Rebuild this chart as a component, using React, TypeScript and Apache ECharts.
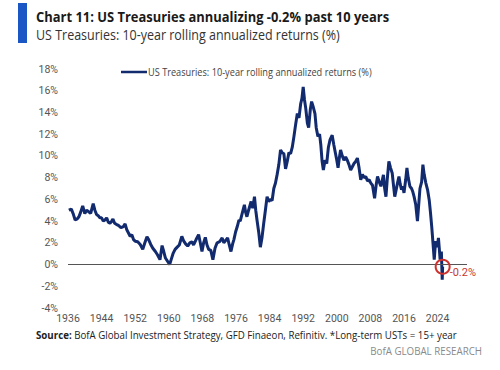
import React, { useEffect, useRef } from "react";
import * as echarts from "echarts";

const years = [
  1936.2, 1936.8, 1937.3, 1937.7, 1938.2, 1938.6, 1939.0, 1939.5, 1940.0, 1940.4, 1940.8, 1941.4, 1942.0, 1942.4, 1942.8,
  1943.2, 1943.6, 1944.0, 1944.4, 1944.8, 1945.2, 1945.6, 1946.0, 1946.4, 1946.7, 1947.1, 1947.5, 1948.0, 1948.6, 1949.2,
  1949.6, 1950.0, 1950.4, 1950.8, 1951.2, 1951.6, 1952.0, 1952.6, 1953.2, 1953.8, 1954.3, 1954.8, 1955.2, 1955.7, 1956.2,
  1956.8, 1957.3, 1957.9, 1958.4, 1958.8, 1959.2, 1959.7, 1960.2, 1960.6, 1961.0, 1961.5, 1962.0, 1962.5, 1963.1, 1963.5,
  1964.0, 1964.5, 1965.0, 1965.5, 1965.9, 1966.5, 1967.1, 1967.5, 1967.9, 1968.3, 1968.7, 1969.1, 1969.5, 1970.0, 1970.5,
  1971.0, 1971.5, 1972.1, 1972.7, 1973.1, 1973.5, 1974.0, 1974.4, 1974.8, 1975.2, 1975.5, 1975.9, 1976.3, 1976.7, 1977.0,
  1977.4, 1978.0, 1978.3, 1978.6, 1979.0, 1979.6, 1980.0, 1980.4, 1980.7, 1981.0, 1981.4, 1981.8, 1982.2, 1982.6, 1983.0,
  1983.4, 1983.8, 1984.2, 1984.6, 1985.0, 1985.4, 1985.8, 1986.2, 1986.6, 1987.0, 1987.4, 1987.8, 1988.2, 1988.6, 1989.0,
  1989.4, 1989.8, 1990.2, 1990.6, 1991.0, 1991.4, 1991.7, 1992.0, 1992.3, 1992.6, 1993.0, 1993.3, 1993.7, 1994.0, 1994.4,
  1994.8, 1995.1, 1995.5, 1995.9, 1996.2, 1996.5, 1996.8, 1997.2, 1997.6, 1998.0, 1998.4, 1998.9, 1999.3, 1999.7, 2000.0,
  2000.3, 2000.6, 2000.9, 2001.3, 2001.7, 2002.1, 2002.5, 2002.9, 2003.3, 2003.7, 2004.1, 2004.5, 2004.9, 2005.3, 2005.7,
  2006.1, 2006.5, 2006.9, 2007.3, 2007.7, 2008.1, 2008.5, 2009.0, 2009.4, 2009.7, 2010.1, 2010.5, 2010.8, 2011.1, 2011.4,
  2011.7, 2012.0, 2012.4, 2012.8, 2013.2, 2013.5, 2013.8, 2014.2, 2014.5, 2014.8, 2015.1, 2015.4, 2015.7, 2016.0, 2016.4,
  2016.7, 2017.0, 2017.4, 2017.8, 2018.1, 2018.4, 2018.8, 2019.2, 2019.5, 2019.8, 2020.2, 2020.5, 2020.8, 2021.2, 2021.6,
  2022.0, 2022.3, 2022.6, 2022.9, 2023.2, 2023.4, 2023.6, 2023.9, 2024.2, 2024.4, 2024.6, 2024.9, 2025.1, 2025.2,
];

const returns = [
  5.0, 5.1, 4.6, 4.1, 4.2, 4.4, 4.8, 5.4, 4.7, 5.0, 4.9, 4.7, 5.6, 5.0, 4.6,
  4.5, 4.3, 4.3, 4.0, 4.1, 4.3, 3.9, 3.8, 4.0, 4.2, 3.8, 3.7, 3.6, 3.4, 3.5,
  3.75, 3.2, 2.9, 2.6, 2.75, 2.3, 2.15, 2.1, 1.85, 1.4, 2.0, 2.55, 2.3, 1.85, 1.5,
  1.2, 0.9, 0.45, 1.75, 1.2, 0.6, 0.3, 0.0, 0.5, 1.0, 1.4, 1.6, 1.8, 2.6, 2.2,
  1.9, 1.7, 2.0, 2.1, 1.8, 2.3, 2.75, 2.0, 1.2, 2.0, 2.5, 1.8, 1.4, 1.3, 0.45,
  1.5, 2.0, 2.1, 2.45, 2.0, 2.2, 2.45, 1.8, 1.2, 1.9, 2.3, 3.0, 3.5, 4.1, 4.0,
  4.6, 5.5, 4.8, 4.4, 5.0, 5.8, 5.2, 6.25, 5.0, 4.1, 3.0, 1.6, 2.5, 3.8, 5.0,
  6.25, 5.8, 6.0, 5.9, 7.0, 7.5, 8.3, 9.2, 10.55, 10.3, 10.2, 8.8, 9.5, 10.3, 10.2,
  10.8, 11.8, 12.9, 13.9, 13.5, 14.8, 15.3, 16.35, 15.2, 14.4, 13.0, 12.6, 14.3, 15.0, 14.5,
  13.9, 12.6, 11.8, 12.0, 11.0, 9.5, 8.7, 9.6, 9.3, 10.8, 11.5, 11.9, 11.0, 10.2, 9.6,
  8.9, 9.8, 10.55, 10.0, 9.6, 9.9, 9.6, 9.2, 8.7, 9.0, 9.3, 9.5, 9.8, 8.9, 7.8,
  8.3, 8.0, 8.1, 7.7, 7.8, 7.5, 7.3, 6.1, 7.4, 8.1, 7.6, 7.2, 7.7, 8.25, 7.0,
  6.25, 7.8, 9.5, 8.9, 8.4, 7.3, 6.25, 7.0, 7.6, 8.1, 7.4, 6.9, 7.2, 6.6, 7.8,
  8.9, 8.0, 7.2, 7.0, 6.7, 6.25, 5.5, 4.0, 5.5, 7.0, 7.6, 9.2, 8.3, 7.5, 6.9,
  5.95, 4.8, 3.5, 2.0, 0.45, 1.5, 2.15, 1.6, 2.45, 1.5, 0.45, 1.2, -1.4, -0.2,
];

const seriesName = "US Treasuries: 10-year rolling annualized returns (%)";
const titleText = "Chart 11: US Treasuries annualizing -0.2% past 10 years";
const subtitleText = "US Treasuries: 10-year rolling annualized returns (%)";
const sourceLabel = "Source:";
const sourceText = " BofA Global Investment Strategy, GFD Finaeon, Refinitiv. *Long-term USTs = 15+ year";
const brandText = "BofA GLOBAL RESEARCH";
const lastLabel = "-0.2%";

const FONT = "'Open Sans', Roboto, sans-serif";
const AXIS_FONT = "Roboto, 'Open Sans', sans-serif";

function measure(text: string, weight: string, size: number, family: string) {
  const c = document.createElement("canvas").getContext("2d");
  if (!c) return text.length * size * 0.5;
  c.font = `${weight} ${size}px ${family}`;
  return c.measureText(text).width;
}

export default function App() {
  const ref = useRef<HTMLDivElement>(null);
  useEffect(() => {
    document.body.style.margin = "0";
    if (!ref.current) return;
    const chart = echarts.init(ref.current, null, { renderer: "svg" });
    const data = years.map((y, i) => [y, returns[i]]);
    const lastIdx = data.length - 1;

    const titleScale = 353 / measure(titleText, "bold", 15, FONT);
    const subScale = 304 / measure(subtitleText, "normal", 14.5, FONT);
    const legScale = 224 / measure(seriesName, "normal", 11, FONT);
    const srcW = measure(sourceLabel, "bold", 10.5, FONT) + measure(sourceText, "normal", 10.5, FONT);
    const srcScale = 421 / srcW;
    const brandScale = 112 / measure(brandText, "normal", 10.5, FONT);

    chart.setOption({
      animation: false,
      backgroundColor: "#ffffff",
      grid: { left: 68, right: 33, top: 69, bottom: 62 },
      xAxis: {
        type: "value",
        min: 1936,
        max: 2031,
        interval: 8,
        axisLine: { show: false },
        axisTick: { show: false },
        splitLine: { show: false },
        axisLabel: {
          showMaxLabel: false,
          color: "#555",
          fontFamily: AXIS_FONT,
          fontSize: 10.5,
          margin: 5,
          formatter: (v: number) => String(v),
        },
      },
      yAxis: {
        type: "value",
        min: -4,
        max: 18,
        interval: 2,
        axisLine: { show: false },
        axisTick: { show: false },
        splitLine: { show: false },
        axisLabel: {
          color: "#555",
          fontFamily: AXIS_FONT,
          fontSize: 10.5,
          margin: 10,
          formatter: "{value}%",
        },
      },
      series: [
        {
          name: seriesName,
          type: "line",
          data,
          showSymbol: false,
          symbol: "none",
          lineStyle: { color: "#122a6e", width: 3 },
          itemStyle: { color: "#122a6e" },
          markLine: {
            silent: true,
            symbol: "none",
            label: { show: false },
            lineStyle: { color: "#555", width: 1, type: "solid" },
            data: [{ yAxis: 0 }],
          },
          markPoint: {
            silent: true,
            symbol: "circle",
            symbolSize: 14,
            itemStyle: { color: "rgba(0,0,0,0)", borderColor: "#d0312d", borderWidth: 2 },
            label: {
              show: true,
              position: "right",
              offset: [-6, 6],
              formatter: lastLabel,
              color: "#c8382f",
              fontFamily: AXIS_FONT,
              fontSize: 11,
            },
            data: [{ coord: data[lastIdx] }],
          },
        },
      ],
      graphic: [
        { type: "rect", x: 18, y: 3, shape: { width: 9, height: 40 }, style: { fill: "#1b57c4" } },
        {
          type: "text",
          x: 36,
          y: 16,
          scaleX: titleScale,
          style: {
            text: titleText,
            fontFamily: FONT,
            fontWeight: "bold",
            fontSize: 15,
            fill: "#1a1a1a",
            align: "left",
            verticalAlign: "middle",
          },
        },
        {
          type: "text",
          x: 36,
          y: 35,
          scaleX: subScale,
          style: {
            text: subtitleText,
            fontFamily: FONT,
            fontSize: 14.5,
            fill: "#333",
            align: "left",
            verticalAlign: "middle",
          },
        },
        {
          type: "line",
          shape: { x1: 121, y1: 72, x2: 147, y2: 72 },
          style: { stroke: "#122a6e", lineWidth: 2.5 },
        },
        {
          type: "text",
          x: 148,
          y: 72,
          scaleX: legScale,
          style: {
            text: seriesName,
            fontFamily: FONT,
            fontSize: 11,
            fill: "#444",
            align: "left",
            verticalAlign: "middle",
          },
        },
        {
          type: "text",
          x: 36,
          y: 335,
          scaleX: srcScale,
          style: {
            text: "{b|" + sourceLabel + "}{n|" + sourceText + "}",
            fontFamily: FONT,
            fontSize: 10.5,
            fill: "#222",
            align: "left",
            verticalAlign: "middle",
            rich: {
              b: { fontWeight: "bold", fontFamily: FONT, fontSize: 10.5, fill: "#222" },
              n: { fontFamily: FONT, fontSize: 10.5, fill: "#222" },
            },
          },
        },
        {
          type: "text",
          x: 482,
          y: 351,
          scaleX: brandScale,
          style: {
            text: brandText,
            fontFamily: FONT,
            fontSize: 10.5,
            fill: "#8a8a8a",
            align: "right",
            verticalAlign: "middle",
          },
        },
      ],
    });
    return () => chart.dispose();
  }, []);
  return <div ref={ref} style={{ width: 500, height: 370 }} />;
}
